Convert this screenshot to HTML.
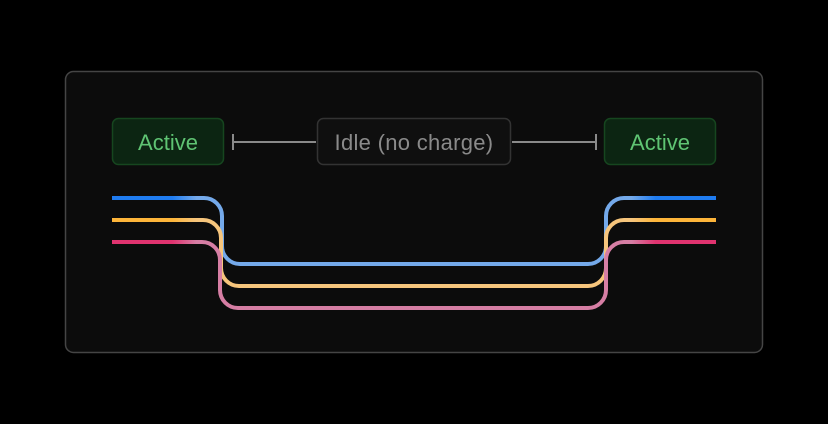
<!DOCTYPE html>
<html><head><style>
html,body{margin:0;padding:0;background:#000;width:828px;height:424px;overflow:hidden}
</style></head><body>
<svg width="828" height="424" viewBox="0 0 828 424" xmlns="http://www.w3.org/2000/svg" font-family="Liberation Sans, sans-serif">
<defs>
<linearGradient id="gb" gradientUnits="userSpaceOnUse" x1="112" y1="0" x2="716" y2="0">
<stop offset="0.1" stop-color="#1f7cf0"/><stop offset="0.14" stop-color="#74a9ea"/><stop offset="0.86" stop-color="#74a9ea"/><stop offset="0.9" stop-color="#1f7cf0"/></linearGradient>
<linearGradient id="gy" gradientUnits="userSpaceOnUse" x1="112" y1="0" x2="716" y2="0">
<stop offset="0.1" stop-color="#fdb53a"/><stop offset="0.14" stop-color="#f6c57c"/><stop offset="0.86" stop-color="#f6c57c"/><stop offset="0.9" stop-color="#fdb53a"/></linearGradient>
<linearGradient id="gp" gradientUnits="userSpaceOnUse" x1="112" y1="0" x2="716" y2="0">
<stop offset="0.1" stop-color="#e0336f"/><stop offset="0.14" stop-color="#d67ea4"/><stop offset="0.86" stop-color="#d67ea4"/><stop offset="0.9" stop-color="#e0336f"/></linearGradient>
</defs>
<rect x="65.5" y="71.5" width="697" height="281" rx="8" fill="#0c0c0c" stroke="#454545" stroke-width="1.5"/>
<rect x="112.5" y="118.5" width="111" height="46" rx="6" fill="#0c2512" stroke="#16461f" stroke-width="1.5"/>
<text x="168" y="150" text-anchor="middle" font-size="22" fill="#5fc473">Active</text>
<rect x="604.5" y="118.5" width="111" height="46" rx="6" fill="#0c2512" stroke="#16461f" stroke-width="1.5"/>
<text x="660" y="150" text-anchor="middle" font-size="22" fill="#5fc473">Active</text>
<rect x="317.5" y="118.5" width="193" height="46" rx="6" fill="#0f0f0f" stroke="#333" stroke-width="1.5"/>
<text x="414" y="150" text-anchor="middle" font-size="22" letter-spacing="0.3" fill="#8a8a8a">Idle (no charge)</text>
<g stroke="#8a8a8a" stroke-width="2" fill="none">
<path d="M233 142H316M233 134V150"/>
<path d="M512 142H596M596 134V150"/>
</g>
<g fill="none" stroke-width="4">
<path stroke="url(#gb)" d="M112 198H204A18 18 0 0 1 222 216V246A18 18 0 0 0 240 264H588A18 18 0 0 0 606 246V216A18 18 0 0 1 624 198H716"/>
<path stroke="url(#gy)" d="M112 220H203A18 18 0 0 1 221 238V268A18 18 0 0 0 239 286H588A18 18 0 0 0 606 268V238A18 18 0 0 1 624 220H716"/>
<path stroke="url(#gp)" d="M112 242H202A18 18 0 0 1 220 260V290A18 18 0 0 0 238 308H588A18 18 0 0 0 606 290V260A18 18 0 0 1 624 242H716"/>
</g>
</svg>
</body></html>
